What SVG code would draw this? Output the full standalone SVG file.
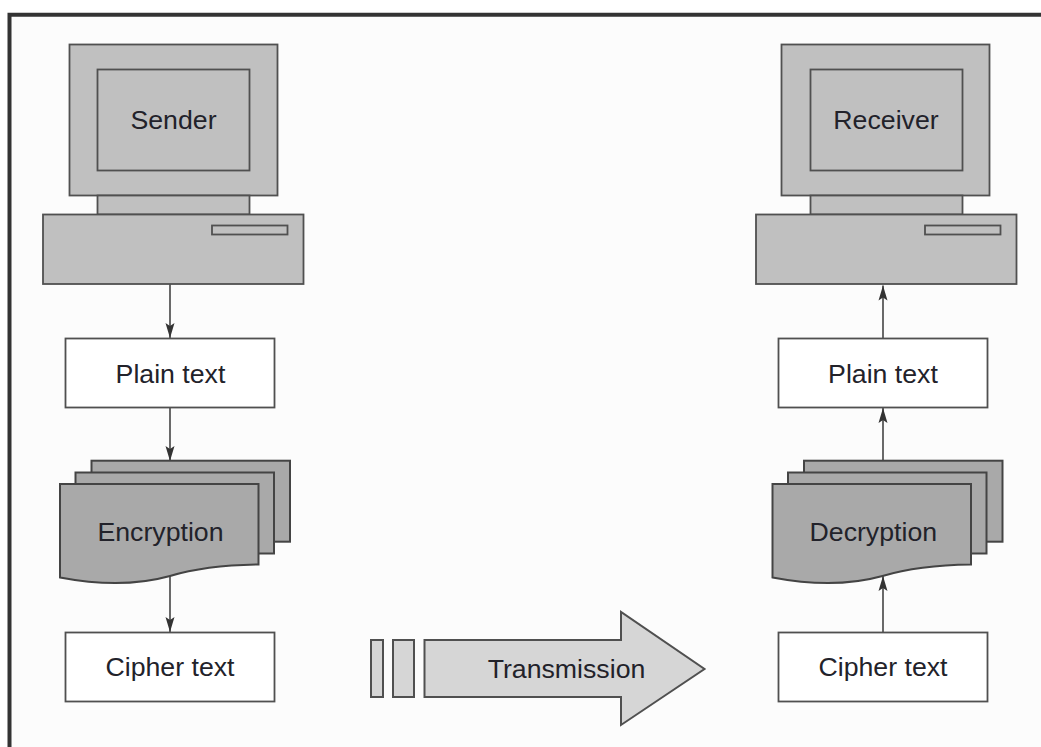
<svg xmlns="http://www.w3.org/2000/svg" width="1041" height="747" viewBox="0 0 1041 747">
<style>
text{font-family:"Liberation Sans",Arial,sans-serif;font-size:26.7px;fill:#22222a;text-anchor:middle}
.g{fill:#c0c0c0;stroke:#505050;stroke-width:1.8}
.d{fill:#a9a9a9;stroke:#444;stroke-width:2}
.w{fill:#fff;stroke:#505050;stroke-width:1.8}
.l{fill:#d6d6d6;stroke:#505050;stroke-width:2}
.c{fill:none;stroke:#444;stroke-width:1.6;marker-end:url(#a)}
</style>
<defs>
<marker id="a" markerUnits="userSpaceOnUse" markerWidth="16" markerHeight="10" refX="15" refY="5" orient="auto" viewBox="0 0 16 10"><path d="M0 0.500L3 5L0 9.500L15 5Z" fill="#333"/></marker>
<path id="doc" d="M0 0H198.500V80.500C160 81 130 86 110 92C85 99 50 103 0 93.500Z"/>
</defs>
<rect width="1041" height="747" fill="#fff"/>
<rect x="11" y="16" width="1030" height="731" fill="#fcfcfc"/>
<path d="M9.500 747V14.700H1041" fill="none" stroke="#333" stroke-width="4"/>
<g id="connectors">
<path class="c" d="M170 284V338"/>
<path class="c" d="M170 408V461"/>
<path class="c" d="M170 576V632"/>
<path class="c" d="M883 632V576"/>
<path class="c" d="M883 461V408"/>
<path class="c" d="M883 338V285.500"/>
</g>
<g id="sender"><rect class="g" x="69.500" y="44.500" width="208" height="151"/><rect class="g" x="97.500" y="69.500" width="152" height="101"/><rect class="g" x="97.500" y="195.500" width="152" height="19"/><rect class="g" x="43" y="214.500" width="260.500" height="69.500"/><rect class="g" x="212" y="225.500" width="75.500" height="9"/><text x="173.500" y="129">Sender</text></g>
<g id="receiver"><rect class="g" x="781.500" y="44.500" width="208" height="151"/><rect class="g" x="810.500" y="69.500" width="152" height="101"/><rect class="g" x="810.500" y="195.500" width="152" height="19"/><rect class="g" x="756" y="214.500" width="260.500" height="69.500"/><rect class="g" x="925" y="225.500" width="75.500" height="9"/><text x="886" y="129">Receiver</text></g>
<g id="plain-text-left"><rect class="w" x="65.500" y="338.500" width="209" height="69"/><text x="170.500" y="383">Plain text</text></g>
<g id="plain-text-right"><rect class="w" x="778.500" y="338.500" width="209" height="69"/><text x="883" y="383">Plain text</text></g>
<g id="encryption"><rect class="d" x="91.500" y="460.700" width="198.500" height="81"/><rect class="d" x="75.500" y="472.500" width="198.500" height="81"/><use href="#doc" class="d" x="60" y="484"/><text x="160.500" y="540.500">Encryption</text></g>
<g id="decryption"><rect class="d" x="804" y="460.700" width="198.500" height="81"/><rect class="d" x="788" y="472.500" width="198.500" height="81"/><use href="#doc" class="d" x="772.500" y="484"/><text x="873.300" y="540.500">Decryption</text></g>
<g id="cipher-text-left"><rect class="w" x="65.500" y="632.500" width="209" height="69"/><text x="170" y="675.500">Cipher text</text></g>
<g id="cipher-text-right"><rect class="w" x="778.500" y="632.500" width="209" height="69"/><text x="883" y="675.500">Cipher text</text></g>
<g id="transmission"><rect class="l" x="371" y="640" width="12" height="57"/><rect class="l" x="393" y="640" width="21" height="57"/><path class="l" d="M424.500 640H621V612L704.500 669L621 725V697H424.500Z"/><text x="566.500" y="678">Transmission</text></g>
</svg>
